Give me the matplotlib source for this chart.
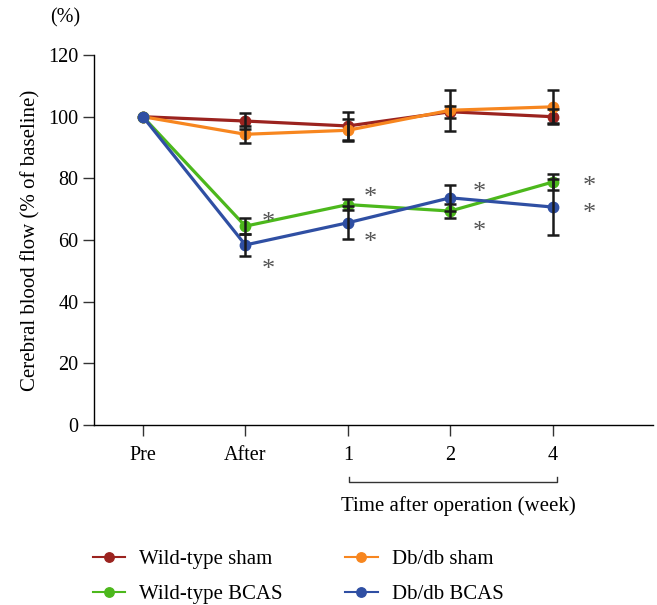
import matplotlib.pyplot as plt
from matplotlib.lines import Line2D

plt.rcParams['font.family'] = ['Liberation Serif', 'DejaVu Serif']

# data
timepoints = ["Pre", "After", "1", "2", "4"]
wt_sham = [100, 98.6, 97.0, 101.6, 100.0]
wt_sham_err = [0, 2.5, 4.5, 2.0, 2.5]
db_sham = [100, 94.3, 95.6, 102.1, 103.2]
db_sham_err = [0, 2.8, 3.5, 6.7, 5.4]
wt_bcas = [100, 64.5, 71.5, 69.4, 78.8]
wt_bcas_err = [0, 2.6, 1.7, 2.3, 2.7]
db_bcas = [100, 58.4, 65.6, 73.7, 70.7]
db_bcas_err = [0, 3.7, 5.3, 4.3, 9.2]

# asterisk positions (x index, y value)
stars_x = [1.22, 1.22, 2.22, 2.22, 3.28, 3.28, 4.36, 4.36]
stars_y = [65.4, 50.4, 73.6, 59.0, 75.2, 62.5, 77.1, 68.3]

series = [
    ("Wild-type sham", wt_sham, wt_sham_err, "#9b231f"),
    ("Db/db sham", db_sham, db_sham_err, "#f7861f"),
    ("Wild-type BCAS", wt_bcas, wt_bcas_err, "#4cb81c"),
    ("Db/db BCAS", db_bcas, db_bcas_err, "#2f4fa3"),
]

fig = plt.figure(figsize=(6.57, 6.05), dpi=100)
ax = fig.add_axes([0.143, 0.2975, 0.851, 0.6115])

x = list(range(len(timepoints)))
for name, y, err, col in series:
    ax.plot(x, y, color=col, lw=2.3, marker="o", ms=7.5, zorder=2)
for name, y, err, col in series:
    ax.errorbar(x[1:], y[1:], yerr=err[1:], fmt="none", ecolor="#1a1a1a",
                elinewidth=1.8, capsize=4.3, capthick=1.8, zorder=3)

for sx, sy in zip(stars_x, stars_y):
    ax.text(sx, sy, "*", fontsize=19, color="#555555", ha="center", va="center")

ax.set_xlim(-0.478, 4.98)
ax.set_ylim(0, 120)
ax.set_yticks(range(0, 121, 20))
ax.set_xticks(x)
ax.set_xticklabels(timepoints)
ax.tick_params(axis="both", labelsize=14.5, length=8, width=1, color="#333333")
ax.tick_params(axis="y", pad=3)
ax.tick_params(axis="x", pad=7)
for s in ["top", "right"]:
    ax.spines[s].set_visible(False)
for s in ["left", "bottom"]:
    ax.spines[s].set_linewidth(1)
ax.set_ylabel("Cerebral blood flow (% of baseline)", fontsize=15, labelpad=6)

fig.text(65 / 657, 1 - 18 / 605, "(%)", fontsize=14.5, ha="center", va="center")

# bracket under weeks
bx0, bx1, by = 349 / 657, 557 / 657, 1 - 482 / 605
fig.add_artist(Line2D([bx0, bx0, bx1, bx1], [by + 0.008, by, by, by + 0.008],
                      color="#333333", lw=1))
fig.text(458 / 657, 1 - 506 / 605, "Time after operation (week)", fontsize=15,
         ha="center", va="center")

# legend filled column-wise: wt sham, wt bcas | db sham, db bcas
order = [0, 2, 1, 3]
handles = [Line2D([], [], color=series[i][3], lw=1.5, marker="o", ms=6.8) for i in order]
labels = [series[i][0] for i in order]
fig.legend(handles, labels, ncol=2, loc="center left",
           bbox_to_anchor=(93 / 657, 1 - 577 / 605), borderpad=0, borderaxespad=0,
           frameon=False, fontsize=15, handlelength=1.55, columnspacing=3.0,
           labelspacing=0.75, handletextpad=0.67)

fig.savefig("out.png", dpi=100)
